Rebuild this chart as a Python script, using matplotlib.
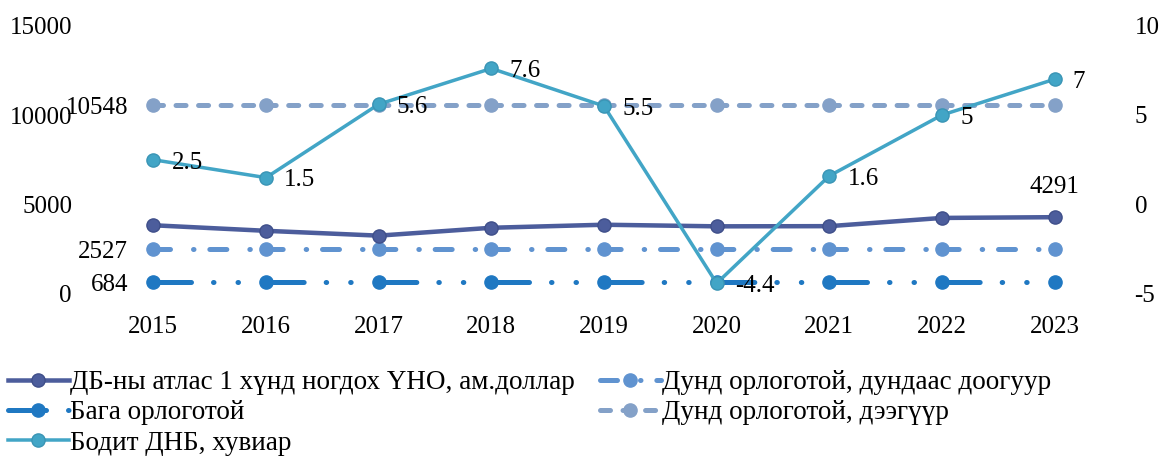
import matplotlib
matplotlib.use('Agg')
import matplotlib.pyplot as plt

# data
years = ['2015', '2016', '2017', '2018', '2019', '2020', '2021', '2022', '2023']
gni_atlas = [3840, 3530, 3260, 3700, 3870, 3780, 3790, 4250, 4291]
low_income = [684, 684, 684, 684, 684, 684, 684, 684, 684]
lower_middle = [2527, 2527, 2527, 2527, 2527, 2527, 2527, 2527, 2527]
upper_middle = [10548, 10548, 10548, 10548, 10548, 10548, 10548, 10548, 10548]
gdp_growth = [2.5, 1.5, 5.6, 7.6, 5.5, -4.4, 1.6, 5, 7]

labels = ['ДБ-ны атлас 1 хүнд ногдох ҮНО, ам.доллар',
          'Бага орлоготой',
          'Бодит ДНБ, хувиар',
          'Дунд орлоготой, дундаас доогуур',
          'Дунд орлоготой, дээгүүр']

plt.rcParams['font.family'] = ['Liberation Serif', 'DejaVu Serif']
plt.rcParams['lines.scale_dashes'] = False
plt.rcParams['axes.unicode_minus'] = False

W, H, DPI = 1163, 459, 100
fig = plt.figure(figsize=(W / DPI, H / DPI), dpi=DPI)
left, right, top, bottom = 97, 1111, 25.5, 294
ax = fig.add_axes([left / W, 1 - bottom / H, (right - left) / W, (bottom - top) / H])
ax2 = ax.twinx()

x = list(range(len(years)))
step = (right - left) / len(years) * 72 / DPI   # category spacing in points


def px(v):
    return v * 72 / DPI


c_gni = '#4c5d9c'
c_low = '#1f78c2'
c_lmid = '#6093d0'
c_umid = '#84a1c8'
c_gdp = '#42a5c6'

lw = px(5)
ms = 9.5

l1, = ax.plot(x, gni_atlas, color=c_gni, lw=px(4.5), marker='o', ms=ms,
              mec='#3f4f8a', label=labels[0], zorder=4)
p_low = [px(38), px(22), px(0.5), px(24), px(0.5)]
p_low.append(step - sum(p_low))
l2, = ax.plot(x, low_income, color=c_low, lw=lw, marker='o', ms=ms,
              linestyle=(0, p_low), dash_capstyle='round', label=labels[1], zorder=3)
p_lmid = [px(17), px(23), px(0.5)]
p_lmid.append(step / 2 - sum(p_lmid))
l4, = ax.plot(x, lower_middle, color=c_lmid, lw=lw, marker='o', ms=ms,
              linestyle=(0, p_lmid), dash_capstyle='round', label=labels[3], zorder=3)
p_umid = [px(10)]
p_umid.append(step / 5 - p_umid[0])
l5, = ax.plot(x, upper_middle, color=c_umid, lw=lw, marker='o', ms=ms,
              linestyle=(0, p_umid), dash_capstyle='round', label=labels[4], zorder=3)
l3, = ax2.plot(x, gdp_growth, color=c_gdp, lw=px(3.5), marker='o', ms=ms,
               mec='#3a95b5', label=labels[2], zorder=5)

ax.set_xlim(-0.5, len(years) - 0.5)
ax.set_ylim(0, 15000)
ax2.set_ylim(-5, 10)
ax.set_yticks([0, 5000, 10000, 15000])
ax2.set_yticks([-5, 0, 5, 10])
ax.set_xticks(x)
ax.set_xticklabels(years)

for a in (ax, ax2):
    for s in a.spines.values():
        s.set_visible(False)
    a.tick_params(length=0, labelsize=18)
ax.tick_params(axis='y', pad=18)
ax.tick_params(axis='x', pad=16)
ax2.tick_params(axis='y', pad=17)

# value labels
fs = 18
ax.annotate(str(upper_middle[0]), (x[0], upper_middle[0]), xytext=(-18, -2),
            textcoords='offset points', ha='right', va='center', fontsize=fs)
ax.annotate(str(lower_middle[0]), (x[0], lower_middle[0]), xytext=(-18, -2),
            textcoords='offset points', ha='right', va='center', fontsize=fs)
ax.annotate(str(low_income[0]), (x[0], low_income[0]), xytext=(-18, -2),
            textcoords='offset points', ha='right', va='center', fontsize=fs)
ax.annotate(str(gni_atlas[-1]), (x[-1], gni_atlas[-1]), xytext=(0, 14),
            textcoords='offset points', ha='center', va='bottom', fontsize=fs)
for i, v in enumerate(gdp_growth):
    ax2.annotate(f'{v:g}', (x[i], v), xytext=(13, -2), textcoords='offset points',
                 ha='left', va='center', fontsize=fs, zorder=6)

fig.legend(handles=[l1, l2, l3, l4, l5], labels=labels, ncol=2,
           loc='upper left', bbox_to_anchor=(8 / W, 1 - 370 / H),
           frameon=False, fontsize=19.5, handlelength=2.25, handletextpad=0.05,
           columnspacing=0.92, labelspacing=0.2, borderpad=0, borderaxespad=0)

fig.savefig('out.png', dpi=DPI)
